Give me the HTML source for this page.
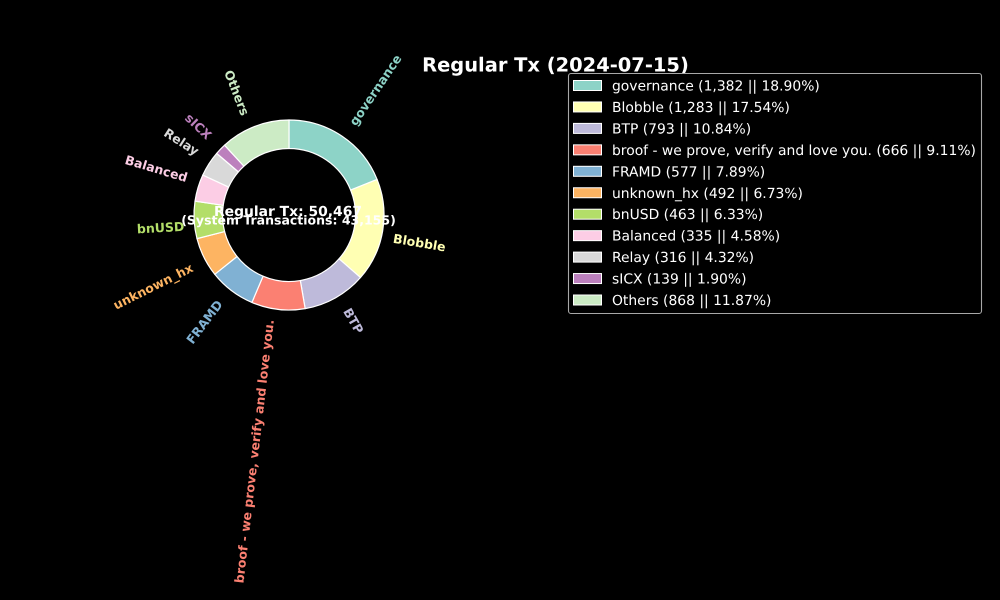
<!DOCTYPE html>
<html>
<head>
<meta charset="utf-8">
<title>Regular Tx (2024-07-15)</title>
<style>
html,body{margin:0;padding:0;background:#000;width:1000px;height:600px;overflow:hidden}
svg{display:block;text-rendering:geometricPrecision}
text{font-family:"DejaVu Sans","Liberation Sans",sans-serif}
</style>
</head>
<body>
<svg id="chart" width="1000" height="600" viewBox="0 0 1000 600" xmlns="http://www.w3.org/2000/svg">
  <rect x="0" y="0" width="1000" height="600" fill="#000"/>
  <g id="wedges"></g>
  <g id="labels"></g>
  <text x="555.5" y="71.5" text-anchor="middle" font-size="19.44" font-weight="bold" fill="#fff">Regular Tx (2024-07-15)</text>
  <text x="288" y="216" text-anchor="middle" font-size="13.89" font-weight="bold" fill="#fff">Regular Tx: 50,467</text>
  <text x="288.5" y="224.5" text-anchor="middle" font-size="12.5" font-weight="bold" fill="#fff">(System Transactions: 43,155)</text>
  <rect x="568.5" y="73.5" width="413" height="240" rx="2.5" ry="2.5" fill="#000" stroke="#a8a8a8" stroke-width="1.1"/>
  <g id="legend"></g>
</svg>
<script>
var categories = ["governance", "Blobble", "BTP", "broof - we prove, verify and love you.", "FRAMD", "unknown_hx", "bnUSD", "Balanced", "Relay", "sICX", "Others"];
var txCounts = [1382, 1283, 793, 666, 577, 492, 463, 335, 316, 139, 868];
var percentLabels = ["18.90%", "17.54%", "10.84%", "9.11%", "7.89%", "6.73%", "6.33%", "4.58%", "4.32%", "1.90%", "11.87%"];
var countLabels = ["1,382", "1,283", "793", "666", "577", "492", "463", "335", "316", "139", "868"];
var seriesColors = ["#8dd3c7", "#ffffb3", "#bebada", "#fb8072", "#80b1d3", "#fdb462", "#b3de69", "#fccde5", "#d9d9d9", "#bc80bd", "#ccebc5"];

var NS = "http://www.w3.org/2000/svg";
var cx = 289, cy = 215, outerR = 95, innerR = 66.5, labelR = 104.5;
var labelFont = 12.5, labelBoxH = 13.5;
var total = txCounts.reduce(function (a, b) { return a + b; }, 0);

function angleScale(v) { return 90 - (v / total) * 360; }
function px(r, deg) { return cx + r * Math.cos(deg * Math.PI / 180); }
function py(r, deg) { return cy - r * Math.sin(deg * Math.PI / 180); }
function wedgePath(a0, a1) {
  var large = Math.abs(a1 - a0) > 180 ? 1 : 0;
  return "M" + px(outerR, a0) + " " + py(outerR, a0) +
    "A" + outerR + " " + outerR + " 0 " + large + " 1 " + px(outerR, a1) + " " + py(outerR, a1) +
    "L" + px(innerR, a1) + " " + py(innerR, a1) +
    "A" + innerR + " " + innerR + " 0 " + large + " 0 " + px(innerR, a0) + " " + py(innerR, a0) + "Z";
}
function slug(s) { return s.toLowerCase().replace(/[^a-z0-9]+/g, "-").replace(/^-|-$/g, ""); }

var wedgeGroup = document.getElementById("wedges");
var labelGroup = document.getElementById("labels");
var legendGroup = document.getElementById("legend");
var running = 0;

txCounts.forEach(function (value, i) {
  var a0 = angleScale(running);
  var a1 = angleScale(running + value);
  running += value;
  var mid = (a0 + a1) / 2;

  var wedge = document.createElementNS(NS, "path");
  wedge.setAttribute("d", wedgePath(a0, a1));
  wedge.setAttribute("fill", seriesColors[i]);
  wedge.setAttribute("stroke", "#fff");
  wedge.setAttribute("stroke-width", "1.2");
  wedge.setAttribute("stroke-linejoin", "round");
  
  
  wedgeGroup.appendChild(wedge);

  var lx = px(labelR, mid), ly = py(labelR, mid);
  var right = lx > cx;
  var upper = ly < cy;
  var rot = right ? mid : mid - 180;
  var label = document.createElementNS(NS, "text");
  label.setAttribute("text-anchor", "middle");
  label.setAttribute("dy", "0.29em");
  label.setAttribute("font-size", labelFont);
  label.setAttribute("font-weight", "bold");
  label.setAttribute("fill", seriesColors[i]);
  label.textContent = categories[i];
  
  
  labelGroup.appendChild(label);
  var w = label.getComputedTextLength();
  var r = rot * Math.PI / 180;
  var boxW = w * Math.abs(Math.cos(r)) + labelBoxH * Math.abs(Math.sin(r));
  var boxH = w * Math.abs(Math.sin(r)) + labelBoxH * Math.abs(Math.cos(r));
  var bx = right ? lx + boxW / 2 : lx - boxW / 2;
  var by = upper ? ly - boxH / 2 : ly + boxH / 2;
  label.setAttribute("x", bx);
  label.setAttribute("y", by);
  label.setAttribute("transform", "rotate(" + (-rot) + " " + bx + " " + by + ")");

  var rowY = 85.5 + i * 21.45;
  var swatch = document.createElementNS(NS, "rect");
  swatch.setAttribute("x", 573.5);
  swatch.setAttribute("y", rowY - 5);
  swatch.setAttribute("width", 28);
  swatch.setAttribute("height", 10);
  swatch.setAttribute("fill", seriesColors[i]);
  swatch.setAttribute("stroke", "#fff");
  swatch.setAttribute("stroke-width", "1");
  
  
  legendGroup.appendChild(swatch);

  var entry = document.createElementNS(NS, "text");
  entry.setAttribute("x", 612);
  entry.setAttribute("y", rowY + 5);
  entry.setAttribute("font-size", "13.89");
  entry.setAttribute("fill", "#fff");
  entry.textContent = categories[i] + " (" + countLabels[i] + " || " + percentLabels[i] + ")";
  
  
  legendGroup.appendChild(entry);
});
</script>
</body>
</html>
